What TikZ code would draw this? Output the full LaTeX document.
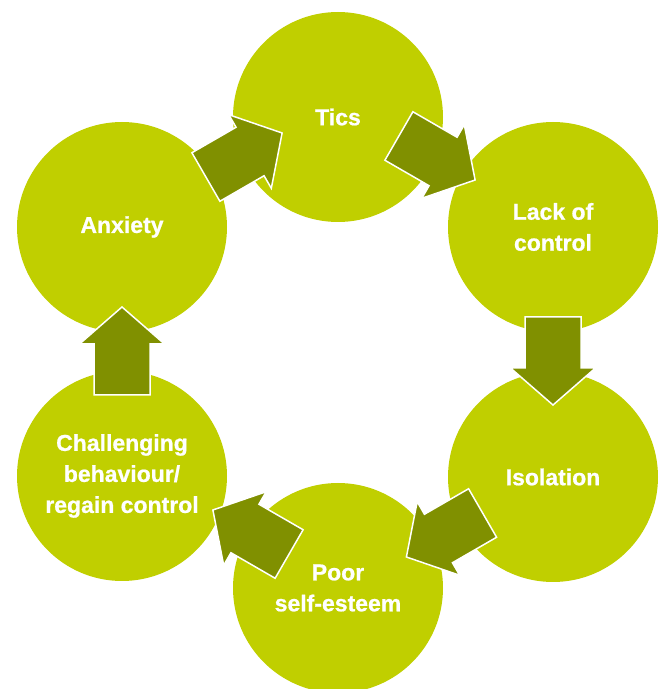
\documentclass[tikz,border=0pt]{standalone}
\usepackage{fontspec}
\setmainfont{Liberation Sans}[BoldFeatures={FakeBold=0.8}]
\definecolor{circgreen}{RGB}{192,207,0}
\definecolor{arrowgreen}{RGB}{128,144,0}
\tikzset{
  stage/.style={circle, fill=circgreen, minimum size=210pt, inner sep=0pt,
    text=white, font=\bfseries\fontsize{23}{31}\selectfont, align=center},
  blockarrow/.pic={
    \fill[arrowgreen, draw=white, line width=1.5pt, line join=miter]
      (-44,-28) -- (7,-28) -- (7,-42.5) -- (44,0) -- (7,42.5) -- (7,28) -- (-44,28) -- cycle;
  }
}
\begin{document}
\begin{tikzpicture}[x=1pt, y=1pt]
\useasboundingbox (0,0) rectangle (664,689);
\clip (0,0) rectangle (664,689);
\node[stage] (tics) at (338,572) {Tics};
\node[stage] (lack) at (553,462) {Lack of\\control};
\node[stage] (iso) at (553,212) {Isolation};
\node[stage] (poor) at (338,101) {Poor\\self-esteem};
\node[stage] (chal) at (122,213) {Challenging\\behaviour/\\regain control};
\node[stage] (anx) at (122,462) {Anxiety};
\pic[rotate=30] (a1) at (244,534) {blockarrow};
\pic[rotate=-30] (a2) at (437,531) {blockarrow};
\pic[rotate=-90] (a3) at (553,328) {blockarrow};
\pic[rotate=210] (a4) at (444.5,154) {blockarrow};
\pic[rotate=150] (a5) at (251,157) {blockarrow};
\pic[rotate=90] (a6) at (122,338) {blockarrow};
\end{tikzpicture}
\end{document}
